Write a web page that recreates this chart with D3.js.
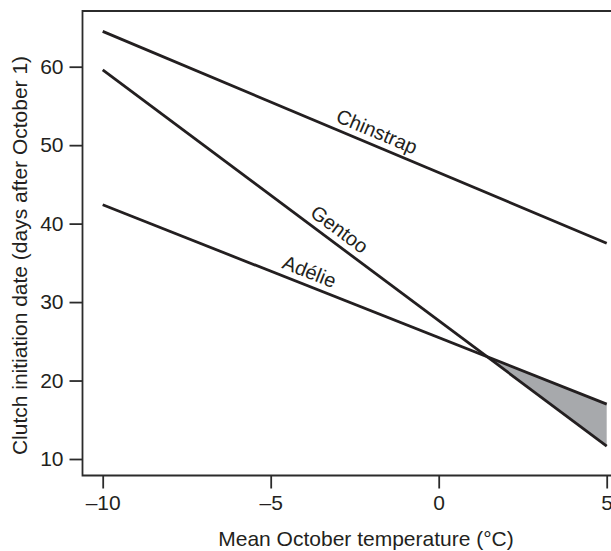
<!DOCTYPE html>
<html>
<head>
<meta charset="utf-8">
<script src="https://cdn.jsdelivr.net/npm/d3@7"></script>
<style>
  body { margin: 0; background: #fff; }
  text { font-family: "Liberation Sans", Arial, Helvetica, sans-serif; fill: #231f20; }
</style>
</head>
<body>
<div class="chart"></div>
<script>
// fitted lines, read at both ends of the temperature range
var temps = [-10, 5];
var species = ["Chinstrap", "Gentoo", "Adélie"];
var chinstrap = [64.5, 37.5];
var gentoo = [59.6, 11.65];
var adelie = [42.4, 17.0];
// where along each line its name sits (deg C)
var labelAt = [-2.0, -3.2, -4.0];

var xTicks = [-10, -5, 0, 5];
var yTicks = [10, 20, 30, 40, 50, 60];

var W = 611, H = 551;
var frameLeft = 82.5, frameTop = 11, frameBottom = 475.5;

var svg = d3.select(".chart").append("svg")
  .attr("width", W)
  .attr("height", H);

var x = d3.scaleLinear().domain([-10, 5]).range([102.7, 606.7]);
var y = d3.scaleLinear().domain([10, 60]).range([459, 66.7]);

var ink = "#231f20";

// shaded wedge where Gentoo falls below Adelie
var slopeG = (gentoo[1] - gentoo[0]) / (temps[1] - temps[0]);
var slopeA = (adelie[1] - adelie[0]) / (temps[1] - temps[0]);
var tx = temps[0] + (adelie[0] - gentoo[0]) / (slopeG - slopeA);
var ty = adelie[0] + slopeA * (tx - temps[0]);

svg.append("path")
  .attr("d", d3.line()([[x(tx), y(ty)], [x(temps[1]), y(adelie[1])], [x(temps[1]), y(gentoo[1])]]) + "Z")
  .attr("fill", "#a7a9ac");

// frame (right side runs off the picture)
svg.append("path")
  .attr("d", "M" + W + "," + frameTop + "H" + frameLeft + "V" + frameBottom + "H" + W)
  .attr("fill", "none")
  .attr("stroke", "#2b2b2b")
  .attr("stroke-width", 1.8);

var yAxis = svg.append("g")
  .attr("transform", "translate(" + frameLeft + ",0)")
  .call(d3.axisLeft(y).tickValues(yTicks).tickSize(13).tickPadding(6));

var xAxis = svg.append("g")
  .attr("transform", "translate(0," + frameBottom + ")")
  .call(d3.axisBottom(x).tickValues(xTicks).tickSize(13).tickPadding(7)
    .tickFormat(function(d){ return d < 0 ? "\u2013" + Math.abs(d) : d; }));

[yAxis, xAxis].forEach(function(g){
  g.select(".domain").remove();
  g.selectAll(".tick line").attr("stroke", "#2b2b2b").attr("stroke-width", 1.8);
  g.selectAll(".tick text")
    .attr("fill", ink)
    .style("font-size", "21px")
    .style("font-family", "'Liberation Sans', Arial, sans-serif");
});

// lines
var series = [chinstrap, gentoo, adelie];
var line = d3.line()
  .x(function(d, i){ return x(temps[i]); })
  .y(function(d){ return y(d); });

svg.selectAll("path.fit").data(series).enter().append("path")
  .attr("class", "fit")
  .attr("d", line)
  .attr("fill", "none")
  .attr("stroke", ink)
  .attr("stroke-width", 2.8);

// names along the lines
series.forEach(function(s, i){
  var t = labelAt[i];
  var v = s[0] + (s[1] - s[0]) * (t - temps[0]) / (temps[1] - temps[0]);
  var ang = Math.atan2(y(s[1]) - y(s[0]), x(temps[1]) - x(temps[0])) * 180 / Math.PI;
  svg.append("text")
    .attr("transform", "translate(" + x(t) + "," + y(v) + ") rotate(" + ang + ")")
    .attr("text-anchor", "middle")
    .attr("dy", -7)
    .style("font-size", "20px")
    .text(species[i]);
});

// axis titles
svg.append("text")
  .attr("x", 366)
  .attr("y", 545.5)
  .attr("text-anchor", "middle")
  .style("font-size", "21px")
  .text("Mean October temperature (\u00b0C)");

svg.append("text")
  .attr("transform", "translate(27,255.5) rotate(-90)")
  .attr("text-anchor", "middle")
  .style("font-size", "21px")
  .text("Clutch initiation date (days after October 1)");
</script>
</body>
</html>
